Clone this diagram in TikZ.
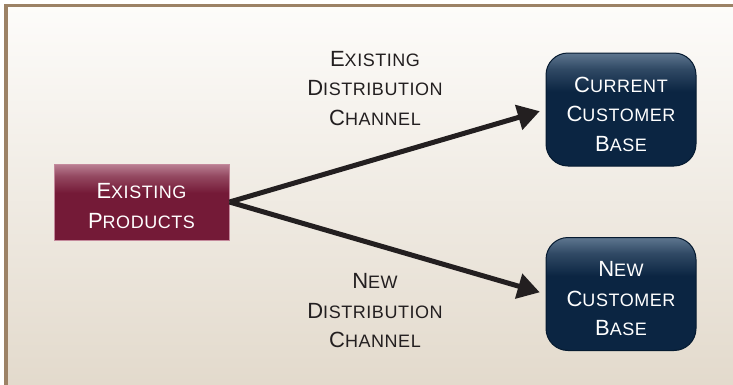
\documentclass[tikz,border=0pt]{standalone}
\usepackage{fontspec}
\usetikzlibrary{arrows.meta}
\newfontfamily\lblfont[LetterSpace=3]{Liberation Sans}
\definecolor{bgtop}{HTML}{FDFCFA}
\definecolor{bgbot}{HTML}{E2D9CB}
\definecolor{framebrown}{HTML}{9C8266}
\definecolor{maroon}{HTML}{741A37}
\definecolor{maroontop}{HTML}{BA8093}
\definecolor{maroonedge}{HTML}{C48A9C}
\definecolor{navy}{HTML}{0B2542}
\definecolor{navytop}{HTML}{5E768F}
\definecolor{navyedge}{HTML}{051A30}
\definecolor{ink}{HTML}{231F20}
\colorlet{maroonmid}{maroontop!45!maroon}
\colorlet{navymid}{navytop!45!navy}
% glossy top fades: the shape's bounding box spans 25bp..75bp
\pgfdeclareverticalshading{maroonfade}{100bp}{color(0bp)=(maroon); color(56bp)=(maroon);
  color(67bp)=(maroonmid); color(75bp)=(maroontop); color(100bp)=(maroontop)}
\pgfdeclareverticalshading{navyfade}{100bp}{color(0bp)=(navy); color(58bp)=(navy);
  color(68bp)=(navymid); color(75bp)=(navytop); color(100bp)=(navytop)}
% capital letter followed by reduced-size capitals
\newcommand{\smcap}[2]{#1{\fontsize{18}{29.5}\selectfont #2}}
% invisible strut that lowers a text block inside its box
\newcommand{\lowerby}[1]{\rule{0pt}{#1}}
\begin{document}
\begin{tikzpicture}[x=1pt,y=-1pt,
  lbl/.style={font=\lblfont\fontsize{22}{29.5}\selectfont, align=center, inner sep=0pt},
  prodbox/.style={lbl, text=white, draw=maroonedge, line width=1pt, shading=maroonfade,
    minimum width=175pt, minimum height=76pt},
  custbox/.style={lbl, text=white, draw=navyedge, line width=1pt, shading=navyfade,
    rounded corners=22pt, minimum width=150pt, minimum height=113pt},
  flow/.style={draw=ink, line width=5pt, shorten >=6pt,
    -{Triangle[length=22pt,width=25pt]}},
  chan/.style={lbl, text=ink}]
\useasboundingbox (0,0) rectangle (733,384);
% background panel with its frame
\begin{scope}
  \clip (0,0) rectangle (733,384);
  \fill[white] (0,0) rectangle (733,384);
  \shade[top color=bgtop, bottom color=bgbot] (5.75,5.5) rectangle (745,395);
  \draw[framebrown, line width=3.5pt] (5.75,5.5) rectangle (745,395);
\end{scope}
% boxes
\node[prodbox] (prod) at (141.5,202)
  {\lowerby{23pt}\smcap{E}{XISTING}\\\smcap{P}{RODUCTS}};
\node[custbox] (cur) at (621,109.5)
  {\lowerby{25pt}\smcap{C}{URRENT}\\\smcap{C}{USTOMER}\\\smcap{B}{ASE}};
\node[custbox] (new) at (621,294)
  {\lowerby{25pt}\smcap{N}{EW}\\\smcap{C}{USTOMER}\\\smcap{B}{ASE}};
% channel labels
\node[chan] (lexist) at (375,88.5) {\smcap{E}{XISTING}\\\smcap{D}{ISTRIBUTION}\\\smcap{C}{HANNEL}};
\node[chan] (lnew) at (375,311) {\smcap{N}{EW}\\\smcap{D}{ISTRIBUTION}\\\smcap{C}{HANNEL}};
% connectors
\draw[flow] (prod.east) -- (cur.west);
\draw[flow] (prod.east) -- (new.west);
\end{tikzpicture}
\end{document}
